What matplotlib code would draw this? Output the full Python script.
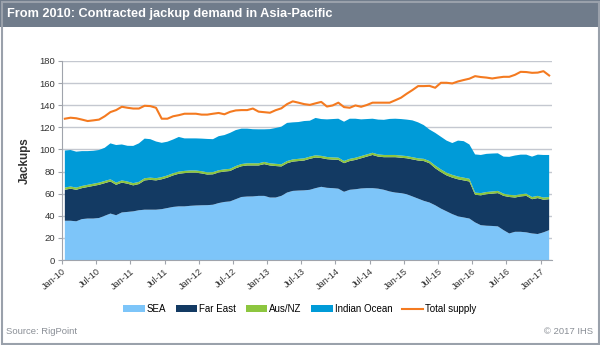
import matplotlib
matplotlib.use("Agg")
import matplotlib.pyplot as plt
from matplotlib.patches import Rectangle, Patch
from matplotlib.lines import Line2D
import numpy as np

# ---------------- data (monthly, Jan-10 .. Feb-17) ----------------
tick_labels = ["Jan-10", "Jul-10", "Jan-11", "Jul-11", "Jan-12", "Jul-12", "Jan-13",
               "Jul-13", "Jan-14", "Jul-14", "Jan-15", "Jul-15", "Jan-16", "Jul-16", "Jan-17"]

sea = [35.5, 35.5, 35, 37, 37.5, 37.5, 38, 40, 42, 40.5,
       43, 43.5, 44, 45, 45.5, 45.5, 45.5, 46, 47, 48,
       48.5, 48.5, 49, 49.3, 49.5, 49.6, 50, 51.5, 52.5, 53,
       55, 57, 57.4, 57.5, 58, 58, 56.5, 56.5, 58, 61,
       62.5, 62.8, 63, 63.5, 65, 66.2, 65.3, 65, 64.5, 61.7,
       63.5, 64, 64.7, 65, 65, 64.5, 63.5, 62, 61, 60.5,
       59.5, 57.5, 55.5, 53.5, 52, 49.5, 46.5, 44, 41.5, 39.5,
       38.5, 37.5, 34, 31.5, 31, 30.8, 30.4, 27, 24, 25.5,
       25.5, 25, 24, 23.5, 25, 27]

far_east = [28, 29, 28.5, 28, 28.5, 29.5, 30, 29.5, 29, 27.5,
            27, 25.5, 23.5, 23.7, 26.5, 27, 26.5, 27, 27.5, 28.5,
            29.5, 30.1, 30, 29.7, 28.8, 27.7, 27.5, 27.7, 27.5, 27.5,
            28, 27.8, 28.1, 28, 27.5, 28.7, 29, 28.5, 26.6, 26.5,
            26.5, 26.7, 27, 28, 27.7, 26, 25.9, 25.8, 26.1, 25.9,
            26, 26.5, 27.3, 28.5, 30, 29, 29.5, 31, 32, 32,
            32.5, 33.5, 34.5, 36, 35.5, 33.5, 33, 32.5, 33, 33.5,
            33.5, 33.5, 25, 27, 28.5, 29.2, 30.1, 31, 33, 31,
            32, 33, 31, 32.5, 29.5, 28]

aus_nz = [2, 2, 2, 2, 2, 2, 2, 2, 2, 2,
          2, 2, 2, 2, 2, 2, 2, 2, 2, 2,
          2, 2, 2, 2, 2, 2, 2, 2, 2, 2,
          2, 2, 2, 2, 2, 2, 2, 2, 2, 2,
          2, 2, 2, 2, 2, 2, 2, 2, 2, 2,
          2, 2, 2, 2, 2, 2, 2, 2, 2, 2,
          2, 2, 2, 2, 2, 2.5, 2.5, 2.5, 2.5, 2.5,
          2.5, 2.5, 2, 2, 2, 2, 2, 2, 2, 2,
          2, 2, 2, 2, 2, 2]

indian_ocean = [33.5, 33, 32.5, 31.5, 30.5, 29.8, 29.5, 30, 32.5, 34,
                32.5, 32.3, 33.7, 34.8, 35.8, 34.8, 33.2, 31, 30.5, 30.5,
                31.3, 29.4, 29, 29, 29.5, 30.2, 29.8, 30.8, 31, 32.5,
                32.5, 32, 31.3, 30.8, 30.7, 29.5, 30.9, 32.4, 34, 34.5,
                33.5, 33.3, 33.7, 32.5, 33.8, 33.3, 34, 34.7, 35.2, 35.5,
                36.3, 35.3, 33.2, 32, 30.8, 31.5, 31.8, 32.6, 32.8, 33,
                33, 33.3, 32.5, 30.5, 28.5, 29.5, 29.5, 29, 28.8, 32.5,
                33, 31, 34.5, 34.5, 34.5, 34.3, 34, 33.5, 34.3, 36,
                35.8, 35.3, 36.5, 37.3, 38.5, 38]

total_supply = [127.8, 128.7, 128.2, 127, 125.7, 126.3, 127, 130, 133.8, 135.6,
                138.6, 137.7, 137, 137, 139.5, 139.2, 137.7, 127.8, 127.8, 130,
                131, 132.3, 132.3, 132.3, 131.5, 131.5, 132.3, 133, 131.8, 134,
                135.3, 135.6, 135.6, 137, 134.2, 133.7, 133.2, 135.5, 137.2, 141,
                143.5, 142.3, 141, 140.3, 141.7, 143, 138.8, 139.8, 142.3, 138.3,
                137.7, 139.8, 138.6, 140.2, 142.3, 142.3, 142.3, 142.3, 144.5, 146.8,
                150.4, 153.7, 157.3, 157.3, 157.5, 155.8, 160.3, 160.3, 159.7, 161.5,
                162.8, 164, 166.3, 165.5, 165, 164.2, 165, 165.7, 165.7, 167.5,
                170.2, 170, 169.3, 169.5, 170.8, 166.9]

series_names = ["SEA", "Far East", "Aus/NZ", "Indian Ocean"]
supply_name = "Total supply"

# ---------------- style ----------------
c_sea = "#7DC5F9"
c_fe = "#133A63"
c_aus = "#8DC63F"
c_io = "#009BD8"
c_sup = "#F47A20"
c_bar = "#707C8B"
c_grid = "#C4C8D0"
c_text = "#333333"

plt.rcParams["font.family"] = ["Liberation Sans", "DejaVu Sans"]

fig = plt.figure(figsize=(6.0, 3.45), dpi=100)

# title bar and outer frame
fig.patches.append(Rectangle((0, 1 - 27 / 345), 1, 27 / 345, transform=fig.transFigure,
                             facecolor=c_bar, edgecolor="none", zorder=0))
fig.patches.append(Rectangle((1.5 / 600, 1.5 / 345), 597 / 600, 342 / 345, transform=fig.transFigure,
                             facecolor="none", edgecolor="#9AA1AB", linewidth=1.5, zorder=5))
fig.text(7 / 600, 1 - 13.5 / 345, "From 2010: Contracted jackup demand in Asia-Pacific",
         color="white", fontsize=9.2, fontweight="bold", va="center", ha="left")

ax = fig.add_axes([62 / 600, 1 - 260 / 345, 490 / 600, 199 / 345])

n = len(sea)
x = np.arange(n) + 0.5
ax.stackplot(x, sea, far_east, aus_nz, indian_ocean,
             colors=[c_sea, c_fe, c_aus, c_io], linewidth=0, zorder=2)
ax.plot(x, total_supply, color=c_sup, linewidth=1.5, zorder=3)

ax.set_xlim(0, 86)
ax.set_ylim(0, 180)
ax.set_yticks(np.arange(0, 181, 20))
ax.set_xticks(np.arange(0, 85, 6))
ax.set_xticklabels(tick_labels, rotation=40, ha="right", rotation_mode="anchor")
ax.tick_params(axis="x", labelsize=6.6, colors=c_text, length=3, color="#A0A4AC", pad=2)
ax.tick_params(axis="y", labelsize=6.8, colors=c_text, length=3, color="#A0A4AC", pad=2)
ax.yaxis.grid(True, color=c_grid, linewidth=1.0, zorder=0)
ax.set_axisbelow(True)
for s in ["top", "right"]:
    ax.spines[s].set_visible(False)
ax.spines["left"].set_color("#A0A4AC")
ax.spines["bottom"].set_color("#A0A4AC")
ax.set_ylabel("Jackups", fontsize=8.4, fontweight="bold", color=c_text, labelpad=6)

handles = [Patch(facecolor=c, edgecolor="none") for c in [c_sea, c_fe, c_aus, c_io]]
handles.append(Line2D([0], [0], color=c_sup, linewidth=1.5))
fig.legend(handles, series_names + [supply_name], loc="center", bbox_to_anchor=(0.5, 1 - 309 / 345),
           ncol=5, frameon=False, fontsize=7, handlelength=2.2, handleheight=0.6,
           handletextpad=0.2, columnspacing=1.0)

fig.text(6 / 600, 1 - 332 / 345, "Source: RigPoint", fontsize=6.8, color="#8A8F96",
         va="center", ha="left")
fig.text(593 / 600, 1 - 332 / 345, "\u00a9 2017 IHS", fontsize=6.8, color="#8A8F96",
         va="center", ha="right")

fig.savefig("out.png", dpi=100)
